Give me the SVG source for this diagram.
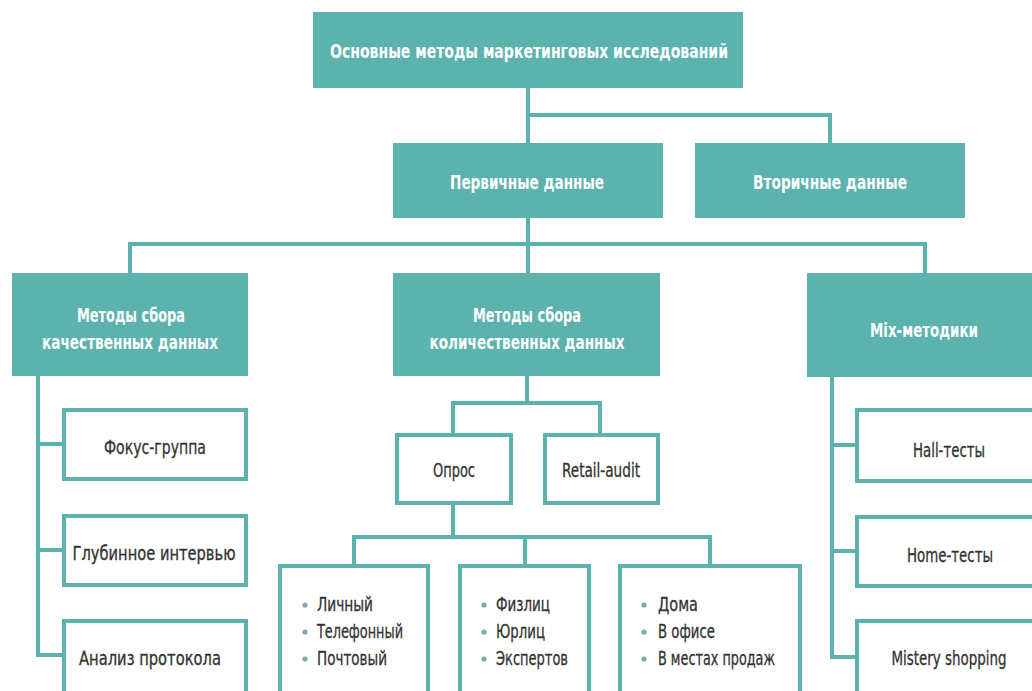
<svg xmlns="http://www.w3.org/2000/svg" width="1032" height="691" viewBox="0 0 1032 691">
<style>
.fill{fill:#5cb3ae}
.box{fill:#ffffff;stroke:#5cb3ae;stroke-width:4}
.con{fill:none;stroke:#5cb3ae;stroke-width:4;stroke-linecap:square;stroke-linejoin:miter}
.wt{fill:#ffffff;font-family:"Liberation Sans Narrow","DejaVu Sans Condensed","Liberation Sans",sans-serif;font-weight:bold;font-size:19px;dominant-baseline:central}
.dt{fill:#333333;font-family:"Liberation Sans Narrow","DejaVu Sans Condensed","Liberation Sans",sans-serif;font-size:19px;dominant-baseline:central;stroke:#333333;stroke-width:0.3}
.bul{fill:#7fa9a6}
</style>
<rect width="1032" height="691" fill="#ffffff"/>
<g id="connectors">
<path class="con" d="M528,88 V143 M528,115 H830 V143"/>
<path class="con" d="M528,218 V273 M130,244 H925 M130,244 V273 M925,244 V273"/>
<path class="con" d="M38,376 V655 H62 M38,444 H62 M38,550 H62"/>
<path class="con" d="M832,377 V657 H855 M832,445 H855 M832,551 H855"/>
<path class="con" d="M527,376 V403 M453,403 H600 M453,403 V433 M600,403 V433"/>
<path class="con" d="M453,505 V537 M354,537 H710 M354,537 V564 M525,537 V564 M710,537 V564"/>
</g>
<g id="root">
<rect class="fill" x="313" y="12" width="430" height="76"/>
<text class="wt" x="529" y="51" text-anchor="middle" textLength="398" lengthAdjust="spacingAndGlyphs">Основные методы маркетинговых исследований</text>
</g>
<g id="primary">
<rect class="fill" x="393" y="143" width="270" height="75"/>
<text class="wt" x="527" y="182" text-anchor="middle" textLength="154" lengthAdjust="spacingAndGlyphs">Первичные данные</text>
</g>
<g id="secondary">
<rect class="fill" x="695" y="143" width="270" height="75"/>
<text class="wt" x="830" y="182" text-anchor="middle" textLength="154" lengthAdjust="spacingAndGlyphs">Вторичные данные</text>
</g>
<g id="qualitative">
<rect class="fill" x="12" y="273" width="236" height="103"/>
<text class="wt" x="131" y="315" text-anchor="middle" textLength="108" lengthAdjust="spacingAndGlyphs">Методы сбора</text>
<text class="wt" x="130" y="342" text-anchor="middle" textLength="176" lengthAdjust="spacingAndGlyphs">качественных данных</text>
</g>
<g id="quantitative">
<rect class="fill" x="393" y="273" width="267" height="103"/>
<text class="wt" x="527" y="315" text-anchor="middle" textLength="108" lengthAdjust="spacingAndGlyphs">Методы сбора</text>
<text class="wt" x="527" y="342" text-anchor="middle" textLength="195" lengthAdjust="spacingAndGlyphs">количественных данных</text>
</g>
<g id="mix">
<rect class="fill" x="807" y="273" width="240" height="104"/>
<text class="wt" x="924" y="330" text-anchor="middle" textLength="108" lengthAdjust="spacingAndGlyphs">Mix-методики</text>
</g>
<g id="focus">
<rect class="box" x="64" y="410" width="182" height="69"/>
<text class="dt" x="155" y="447" text-anchor="middle" textLength="102" lengthAdjust="spacingAndGlyphs">Фокус-группа</text>
</g>
<g id="depth">
<rect class="box" x="64" y="516" width="182" height="69"/>
<text class="dt" x="154" y="553" text-anchor="middle" textLength="163" lengthAdjust="spacingAndGlyphs">Глубинное интервью</text>
</g>
<g id="protocol">
<rect class="box" x="64" y="621" width="182" height="80"/>
<text class="dt" x="150" y="658" text-anchor="middle" textLength="142" lengthAdjust="spacingAndGlyphs">Анализ протокола</text>
</g>
<g id="survey">
<rect class="box" x="397" y="435" width="114" height="68"/>
<text class="dt" x="454" y="470" text-anchor="middle" textLength="42" lengthAdjust="spacingAndGlyphs">Опрос</text>
</g>
<g id="retail">
<rect class="box" x="545" y="435" width="113" height="68"/>
<text class="dt" x="601" y="470" text-anchor="middle" textLength="78" lengthAdjust="spacingAndGlyphs">Retail-audit</text>
</g>
<g id="survey-type">
<rect class="box" x="280" y="566" width="148" height="135"/>
<circle class="bul" cx="305" cy="605" r="2.6"/>
<circle class="bul" cx="305" cy="632" r="2.6"/>
<circle class="bul" cx="305" cy="659" r="2.6"/>
<text class="dt" x="317" y="604" textLength="56" lengthAdjust="spacingAndGlyphs">Личный</text>
<text class="dt" x="317" y="631" textLength="86" lengthAdjust="spacingAndGlyphs">Телефонный</text>
<text class="dt" x="317" y="658" textLength="70" lengthAdjust="spacingAndGlyphs">Почтовый</text>
</g>
<g id="respondents">
<rect class="box" x="460" y="566" width="129" height="135"/>
<circle class="bul" cx="484" cy="605" r="2.6"/>
<circle class="bul" cx="484" cy="632" r="2.6"/>
<circle class="bul" cx="484" cy="659" r="2.6"/>
<text class="dt" x="496" y="604" textLength="54" lengthAdjust="spacingAndGlyphs">Физлиц</text>
<text class="dt" x="496" y="631" textLength="49" lengthAdjust="spacingAndGlyphs">Юрлиц</text>
<text class="dt" x="496" y="658" textLength="72" lengthAdjust="spacingAndGlyphs">Экспертов</text>
</g>
<g id="places">
<rect class="box" x="620" y="566" width="180" height="135"/>
<circle class="bul" cx="644" cy="605" r="2.6"/>
<circle class="bul" cx="644" cy="632" r="2.6"/>
<circle class="bul" cx="644" cy="659" r="2.6"/>
<text class="dt" x="658" y="604" textLength="40" lengthAdjust="spacingAndGlyphs">Дома</text>
<text class="dt" x="658" y="631" textLength="57" lengthAdjust="spacingAndGlyphs">В офисе</text>
<text class="dt" x="658" y="658" textLength="117" lengthAdjust="spacingAndGlyphs">В местах продаж</text>
</g>
<g id="hall">
<rect class="box" x="857" y="410" width="190" height="71"/>
<text class="dt" x="949" y="450" text-anchor="middle" textLength="72" lengthAdjust="spacingAndGlyphs">Hall-тесты</text>
</g>
<g id="home">
<rect class="box" x="857" y="517" width="190" height="69"/>
<text class="dt" x="950" y="555" text-anchor="middle" textLength="86" lengthAdjust="spacingAndGlyphs">Home-тесты</text>
</g>
<g id="mistery">
<rect class="box" x="857" y="621" width="190" height="80"/>
<text class="dt" x="949" y="658" text-anchor="middle" textLength="115" lengthAdjust="spacingAndGlyphs">Mistery shopping</text>
</g>
</svg>
